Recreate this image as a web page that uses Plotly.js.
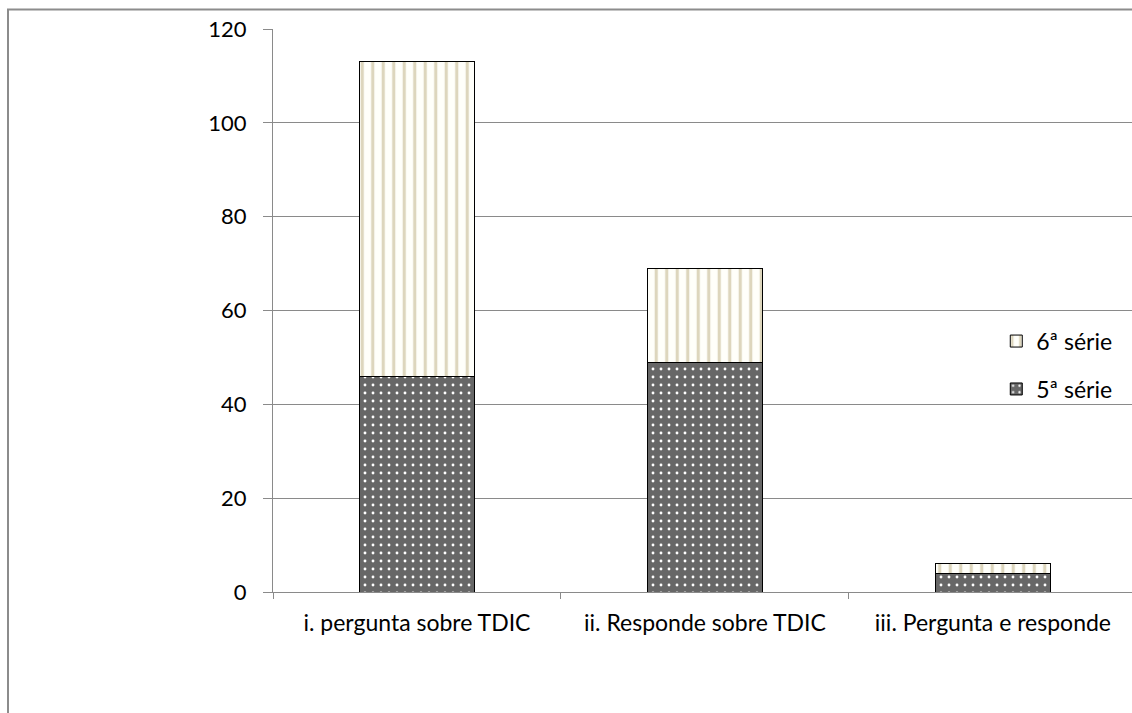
<!DOCTYPE html>
<html>
<head>
<meta charset="utf-8">
<script src="https://cdn.plot.ly/plotly-3.0.1.min.js"></script>
<style>html,body{margin:0;padding:0;background:#fff;}#chart{width:1132px;height:713px;}</style>
</head>
<body>
<div id="chart"></div>
<script>
var categories = ["i. pergunta sobre TDIC", "ii. Responde sobre TDIC", "iii. Pergunta e responde"];
var serie5 = [46, 49, 4];
var serie6 = [67, 20, 2];
var seriesNames = ["5ª série", "6ª série"];
var yTicks = [0, 20, 40, 60, 80, 100, 120];

var font = {family: "Lato, 'Open Sans', sans-serif", size: 23, color: "#000"};
var yfont = {family: "Lato, 'Open Sans', sans-serif", size: 22, color: "#000"};

var traces = [
  {
    type: "bar", name: seriesNames[0], x: categories, y: serie5, legendgroup: "a", legendrank: 2,
    marker: {
      color: "#686868",
      line: {color: "#000", width: 1},
      pattern: {shape: ".", bgcolor: "#676767", fgcolor: "#ffffff", size: 8, solidity: 0.1, fillmode: "replace"}
    },
    hoverinfo: "x+y+name"
  },
  {
    type: "bar", name: seriesNames[1], x: categories, y: serie6, legendgroup: "b", legendrank: 1,
    marker: {
      color: "#fffff8",
      line: {color: "#000", width: 1},
      pattern: {shape: "|", bgcolor: "#fffffa", fgcolor: "#ddd6bd", size: 10.5, solidity: 0.3, fillmode: "replace"}
    },
    hoverinfo: "x+y+name"
  }
];

var layout = {
  width: 1132, height: 713,
  paper_bgcolor: "#fff", plot_bgcolor: "#fff",
  margin: {l: 273, r: 0, t: 29, b: 121},
  barmode: "stack",
  bargap: 0.6,
  font: font,
  xaxis: {
    type: "category",
    range: [-0.5, 2.483],
    tickson: "boundaries",
    ticks: "outside", ticklen: 6, tickcolor: "#8a8a8a", tickwidth: 1,
    ticklabelstandoff: 10,
    showline: true, linecolor: "#8a8a8a", linewidth: 1,
    showgrid: false, zeroline: false,
    tickfont: font,
    fixedrange: true
  },
  yaxis: {
    range: [0, 120],
    tickvals: yTicks,
    ticktext: yTicks.map(String),
    ticks: "outside", ticklen: 9, tickcolor: "#8a8a8a", tickwidth: 1,
    ticklabelstandoff: 12,
    showline: true, linecolor: "#8a8a8a", linewidth: 1,
    showgrid: true, gridcolor: "#8a8a8a", gridwidth: 1,
    zeroline: false,
    tickfont: yfont,
    fixedrange: true
  },
  legend: {
    x: 0.842, y: 0.403, xanchor: "left", yanchor: "middle",
    traceorder: "grouped",
    tracegroupgap: 15,
    font: font,
    bgcolor: "rgba(0,0,0,0)",
    itemwidth: 30
  },
  shapes: [
    {type: "rect", xref: "paper", yref: "paper", x0: -0.3085, x1: 1.2, y0: -0.4, y1: 1.0346,
     line: {color: "#8c8c8c", width: 2}, fillcolor: "rgba(0,0,0,0)", layer: "below"}
  ]
};

Plotly.newPlot("chart", traces, layout, {displayModeBar: false, staticPlot: true});
</script>
</body>
</html>
